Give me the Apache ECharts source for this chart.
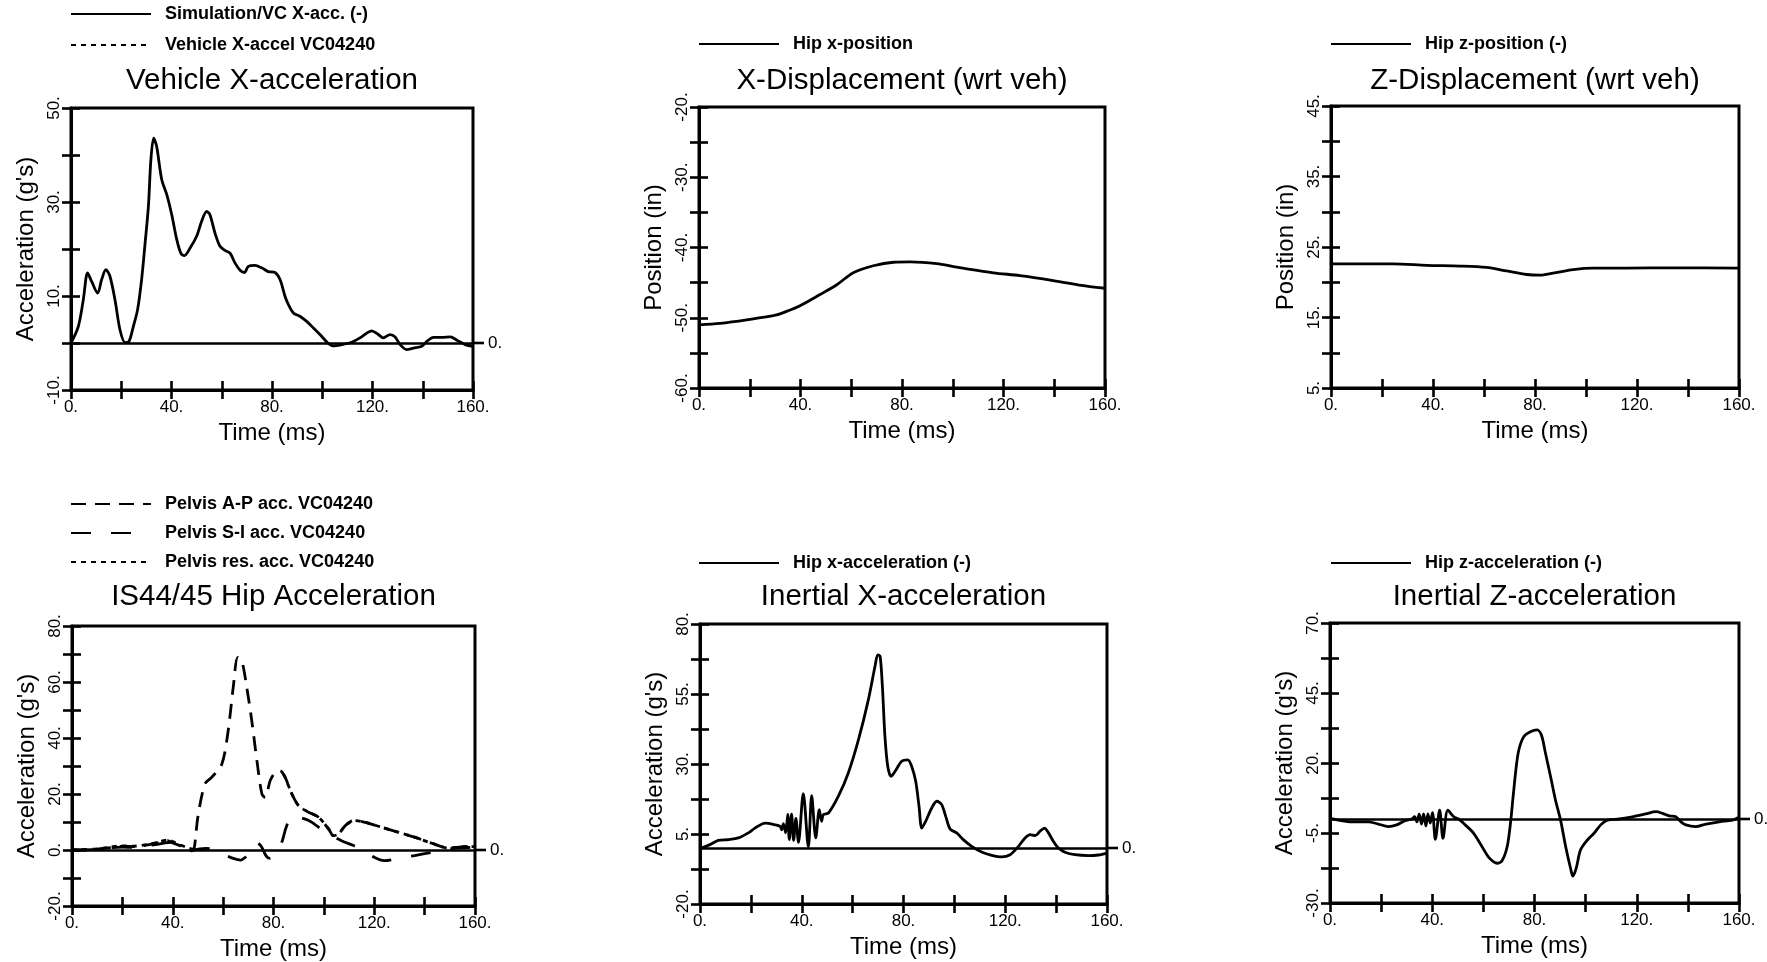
<!DOCTYPE html>
<html>
<head>
<meta charset="utf-8">
<script src="https://cdn.jsdelivr.net/npm/echarts@6/dist/echarts.min.js"></script>
<style>
html,body{margin:0;padding:0;background:#fff;}
#chart{width:1767px;height:962px;}
</style>
</head>
<body>
<div id="chart"></div>
<script>
// ---------------- DATA ----------------
// shared time axis (ms)
const timeTicks = [0, 20, 40, 60, 80, 100, 120, 140, 160];
const timeLabels = [0, 40, 80, 120, 160];

// panel 1: Vehicle X-acceleration
const accel1Ticks = [-10, 0, 10, 20, 30, 40, 50];
const accel1Labels = [-10, 10, 30, 50];
const simVehicleAccel = [[0,0],[2.9,3.5],[4.9,9.2],[6.6,14.9],[8.2,13.1],[10.6,10.6],[12.2,13.5],[13.9,15.6],[15.5,14.2],[17.5,9.2],[19.5,2.8],[21.5,0.1],[23.1,0.35],[24.8,3.5],[26.5,7.1],[28.1,13.5],[29.5,21.3],[30.8,29],[31.8,39],[32.9,43.6],[34.1,41.8],[36.1,34.8],[38.1,31.6],[40.1,27.3],[42.1,22],[43.8,19],[45.1,18.6],[47.4,20.2],[50,22.7],[52,25.9],[54,28],[55.3,27.3],[57.3,23.4],[59.3,20.6],[61.3,19.7],[63.3,19.1],[65.3,17],[67.3,15.5],[69,15],[70.6,16.3],[73.2,16.5],[75.9,16],[78.5,15.2],[81.2,15],[83.2,13.5],[85.2,9.9],[86.5,8.2],[88.5,6.4],[91.1,5.7],[93.8,4.6],[96.5,3.2],[99.1,1.8],[102.4,-0.1],[104.4,-0.6],[107.7,-0.35],[111.7,0.15],[115,1.1],[117.7,2.1],[119.7,2.6],[122.3,1.8],[124.3,1.1],[127,1.8],[129,1.3],[131,-0.35],[133.6,-1.4],[136.3,-1.1],[139.6,-0.7],[141.6,0.35],[144.3,1.2],[147.6,1.2],[151,1.3],[153.6,0.6],[156.9,-0.35],[160,-0.7]];
const testVehicleAccel = [];

// panel 2: X-Displacement
const posXTicks = [-60, -55, -50, -45, -40, -35, -30, -25, -20];
const posXLabels = [-60, -50, -40, -30, -20];
const hipXPosition = [[0,-51],[8.3,-50.8],[18.8,-50.3],[30.6,-49.6],[34.5,-49.1],[39.8,-48.3],[47.7,-46.7],[54.3,-45.3],[60.8,-43.6],[68.7,-42.6],[76.6,-42.1],[83.2,-42.05],[93.7,-42.3],[101.5,-42.8],[116,-43.6],[126.5,-44],[139.6,-44.7],[152.8,-45.5],[160,-45.8]];

// panel 3: Z-Displacement
const posZTicks = [5, 10, 15, 20, 25, 30, 35, 40, 45];
const posZLabels = [5, 15, 25, 35, 45];
const hipZPosition = [[0,22.6],[24.4,22.6],[37.5,22.4],[50.6,22.3],[61,22.1],[68.9,21.6],[76.7,21.1],[81.9,21],[87.1,21.3],[95,21.8],[102.9,22],[115.9,22],[135.5,22.05],[160,22]];

// panel 4: IS44/45 Hip Acceleration
const accel4Ticks = [-20, -10, 0, 10, 20, 30, 40, 50, 60, 70, 80];
const accel4Labels = [-20, 0, 20, 40, 60, 80];
const pelvisAP = [[0,0],[5,0],[10,0.3],[15,0.8],[20,1.3],[25,1.2],[30,1.8],[35,2.8],[38,3.3],[40,2.5],[43,1.5],[46,0.5],[47.5,-0.3],[48.5,0.5],[50,12],[52.8,23.6],[55.5,26],[59.5,30.7],[62,42.6],[64,58],[65.8,68.8],[67.4,67.6],[69.4,58],[71.4,46],[73.4,32],[75.4,20],[76.7,18.8],[78.7,24.8],[80.7,27.7],[82.6,28.3],[84.6,26],[87.3,20],[90,15.8],[93.9,13.5],[97.9,11.7],[101.9,7.5],[103.8,5.1],[105.8,5.7],[108.5,8.7],[111.8,10.5],[116.4,9.9],[123,8.1],[129.7,6.3],[136.3,4.5],[142.9,2.4],[149.5,0.7],[156,1.2],[160,1.2]];
const pelvisSI = [[0,0],[10,0.2],[15,0.8],[20,1.0],[25,0.9],[30,1.5],[35,2.2],[38,2.6],[40,2.8],[42,2.0],[45,0.5],[48,0],[50,0.3],[53,0.6],[56,0.3],[58,-0.5],[61,-1.8],[64,-3],[67,-3.6],[69,-2.5],[71,-0.5],[73,2.7],[75,1.5],[77,-2],[78.5,-3],[80,-2.6],[82,0],[83.5,3.3],[85,8],[87.3,12.3],[90,11.7],[94,10.5],[98,8.1],[102,5.7],[107,3.3],[112,1.5],[116,-0.2],[120,-2.6],[124,-3.8],[130,-2.9],[136,-2],[143,-0.8],[147,0],[152,0.6],[156,0.8],[160,1]];
const pelvisRes = [[0,0],[10,0.4],[15,1],[20,1.5],[25,1.4],[30,2],[35,3],[38,3.6],[40,3],[43,1.8],[46,0.8],[48,0.3],[49,null],[84,27],[84.6,26],[87.3,20],[90,15.8],[93.9,13.5],[97.9,11.7],[101.9,7.5],[103.8,5.1],[105.8,5.7],[108.5,8.7],[111.8,10.5],[116.4,9.9],[123,8.1],[129.7,6.3],[136.3,4.5],[142.9,2.4],[149.5,0.7],[156,1.2],[160,1.2]];

// panel 5: Inertial X-acceleration
const accel5Ticks = [-20, -7.5, 5, 17.5, 30, 42.5, 55, 67.5, 80];
const accel5Labels = [-20, 5, 30, 55, 80];
const hipXAccel = [[0,-0.3],[3.9,1.2],[7.2,2.7],[11.1,3],[15.1,3.6],[19,5.4],[21.6,7.1],[25.6,8.9],[29.5,8.3],[31.5,7.7],[32.1,6.5],[32.8,8.7],[33.7,5.4],[34.5,12],[35.1,3],[36,12.1],[36.8,2.7],[37.7,10.6],[38.7,2],[40.6,19.4],[42.6,0.4],[43.9,18.7],[45.5,3.6],[46.9,13.7],[47.8,9.5],[48.5,11.9],[50.5,12.5],[54.4,18.5],[58.3,26.8],[62.3,38.7],[66.2,53],[68.8,64.9],[69.9,69],[70.8,68.5],[71.7,57.7],[72.7,39.9],[73.8,29.2],[75.1,25.6],[76.7,27.4],[79.3,31],[81.7,31.5],[83.2,29.2],[84.8,23.8],[86.1,14.9],[87.2,7.1],[88.7,9.5],[91.1,14.3],[93.1,16.7],[95,15.5],[96.6,11.3],[98.3,6.8],[100.9,5.4],[103.5,3],[106.8,0.6],[110.7,-1.4],[114.7,-2.6],[118.6,-3.2],[121.9,-2.4],[125.2,0.6],[127.8,3.6],[129.8,4.8],[131.7,4.4],[133.7,6],[135.4,7.1],[137,5.4],[138.9,2.4],[140.9,0],[143.5,-1.5],[147.4,-2.4],[152.7,-2.7],[156.6,-2.5],[160,-1.8]];

// panel 6: Inertial Z-acceleration
const accel6Ticks = [-30, -17.5, -5, 7.5, 20, 32.5, 45, 57.5, 70];
const accel6Labels = [-30, -5, 20, 45, 70];
const hipZAccel = [[0,0.2],[3.3,-0.4],[8.5,-1],[15,-1],[18.9,-1.8],[22.8,-2.7],[26.1,-2.1],[29.3,-0.6],[32,0],[33.1,0.8],[34,-1],[34.9,1.7],[35.8,-1.8],[36.6,1.8],[37.5,-2.5],[38.3,1.8],[39.2,-1.5],[40.1,2.3],[41.2,-7.3],[42.9,3.2],[44.2,-6.9],[46.1,3.2],[48.4,0.8],[50.3,0],[52.9,-2.1],[56.2,-5.1],[59.5,-9.9],[62.1,-13.7],[65.4,-15.8],[67.3,-14.9],[69.3,-9.9],[70.6,-1.5],[71.9,10.4],[73.6,23.5],[75.8,29.4],[78.4,31.2],[81,31.8],[82.7,30],[84.3,23.5],[86.3,15.1],[88.2,6.8],[90.2,-0.4],[92.2,-9.9],[94.1,-17.6],[95,-20.4],[96.3,-17.6],[98,-11.1],[100.7,-7.5],[103.3,-5.1],[105.9,-2.1],[108.5,-0.4],[113.1,0],[118.3,0.8],[123.5,1.8],[127.5,2.6],[130.1,2],[132.7,1.1],[135.3,0.8],[137.3,-1],[139.2,-2.1],[143.1,-2.7],[147.1,-1.8],[152.3,-1],[157.5,-0.4],[160,0.6]];

// ---------------- LAYOUT / STYLE ----------------
const FONT = '"Liberation Sans", Arial, Helvetica, sans-serif';
const SOLID = 'solid', AP_DASH = [15, 9], SI_DASH = [20, 20], SHORT_DASH = [5, 5];
const LINE_W = 2.8;

const panels = [
  { grid:{left:71, top:108, width:402, height:282}, title:'Vehicle X-acceleration', titleY:81,
    yName:"Acceleration (g's)", yMin:-10, yMax:50, yTicks:accel1Ticks, yLabels:accel1Labels, zero:true,
    legend:{left:70, top:5, gap:13},
    series:[{name:'Simulation/VC X-acc. (-)', data:simVehicleAccel, dash:SOLID},
            {name:'Vehicle X-accel VC04240', data:testVehicleAccel, dash:SHORT_DASH}] },
  { grid:{left:699, top:107, width:406, height:281}, title:'X-Displacement (wrt veh)', titleY:81,
    yName:'Position (in)', yMin:-60, yMax:-20, yTicks:posXTicks, yLabels:posXLabels, zero:false,
    legend:{left:698, top:35, gap:13},
    series:[{name:'Hip x-position', data:hipXPosition, dash:SOLID}] },
  { grid:{left:1331, top:106, width:408, height:282}, title:'Z-Displacement (wrt veh)', titleY:81,
    yName:'Position (in)', yMin:5, yMax:45, yTicks:posZTicks, yLabels:posZLabels, zero:false,
    legend:{left:1330, top:35, gap:13},
    series:[{name:'Hip z-position (-)', data:hipZPosition, dash:SOLID}] },
  { grid:{left:72, top:626, width:403, height:280}, title:'IS44/45 Hip Acceleration', titleY:597,
    yName:"Acceleration (g's)", yMin:-20, yMax:80, yTicks:accel4Ticks, yLabels:accel4Labels, zero:true,
    legend:{left:70, top:495, gap:11},
    series:[{name:'Pelvis A-P acc. VC04240', data:pelvisAP, dash:AP_DASH},
            {name:'Pelvis S-I acc. VC04240', data:pelvisSI, dash:SI_DASH},
            {name:'Pelvis res. acc. VC04240', data:pelvisRes, dash:SHORT_DASH}] },
  { grid:{left:700, top:624, width:407, height:280}, title:'Inertial X-acceleration', titleY:597,
    yName:"Acceleration (g's)", yMin:-20, yMax:80, yTicks:accel5Ticks, yLabels:accel5Labels, zero:true,
    legend:{left:698, top:554, gap:13},
    series:[{name:'Hip x-acceleration (-)', data:hipXAccel, dash:SOLID}] },
  { grid:{left:1330, top:623, width:409, height:280}, title:'Inertial Z-acceleration', titleY:597,
    yName:"Acceleration (g's)", yMin:-30, yMax:70, yTicks:accel6Ticks, yLabels:accel6Labels, zero:true,
    legend:{left:1330, top:554, gap:13},
    series:[{name:'Hip z-acceleration (-)', data:hipZAccel, dash:SOLID}] }
];

const fmt = v => v + '.';
const tickStyle = {color:'#000', width:2.6};

const option = {
  animation:false,
  backgroundColor:'#fff',
  textStyle:{fontFamily:FONT, color:'#000'},
  grid:[], xAxis:[], yAxis:[], series:[], legend:[], graphic:[]
};

panels.forEach((p, gi) => {
  option.grid.push(Object.assign({show:true, borderColor:'#000', borderWidth:3, backgroundColor:'#fff',
    containLabel:false, outerBoundsMode:'none'}, p.grid));

  option.xAxis.push({
    type:'value', gridIndex:gi, min:0, max:160, position:'bottom',
    axisLine:{show:true, onZero:false, lineStyle:{color:'#000', width:3}},
    axisTick:{show:true, inside:false, length:9, customValues:timeTicks, lineStyle:tickStyle},
    axisLabel:{show:true, customValues:timeLabels, formatter:fmt, color:'#000', fontSize:17, fontFamily:FONT, margin:9},
    splitLine:{show:false},
    name:'Time (ms)', nameLocation:'middle', nameGap:31,
    nameTextStyle:{fontSize:24, color:'#000', fontFamily:FONT}
  });
  option.xAxis.push({
    type:'value', gridIndex:gi, min:0, max:160, position:'bottom',
    axisLine:{show:false, onZero:false},
    axisTick:{show:true, inside:true, length:9, customValues:timeTicks, lineStyle:tickStyle},
    axisLabel:{show:false}, splitLine:{show:false}
  });
  option.yAxis.push({
    type:'value', gridIndex:gi, min:p.yMin, max:p.yMax, position:'left',
    axisLine:{show:true, onZero:false, lineStyle:{color:'#000', width:3}},
    axisTick:{show:true, inside:false, length:9, customValues:p.yTicks, lineStyle:tickStyle},
    axisLabel:{show:true, customValues:p.yLabels, formatter:fmt, rotate:90, color:'#000', fontSize:17, fontFamily:FONT, margin:8},
    splitLine:{show:false},
    name:p.yName, nameLocation:'middle', nameGap:33, nameRotate:90,
    nameTextStyle:{fontSize:24, color:'#000', fontFamily:FONT}
  });
  option.yAxis.push({
    type:'value', gridIndex:gi, min:p.yMin, max:p.yMax, position:'left',
    axisLine:{show:false, onZero:false},
    axisTick:{show:true, inside:true, length:9, customValues:p.yTicks, lineStyle:tickStyle},
    axisLabel:{show:false}, splitLine:{show:false}
  });

  p.series.forEach((s, si) => {
    const ser = {
      type:'line', name:s.name, xAxisIndex:gi*2, yAxisIndex:gi*2,
      data:s.data, symbol:'none', showSymbol:false, smooth:0.3, connectNulls:false,
      lineStyle:{color:'#000', width:LINE_W, type:s.dash}, itemStyle:{color:'#000'},
      emphasis:{disabled:true}, z:3
    };
    if (si === 0 && p.zero) {
      ser.markLine = {
        silent:true, symbol:['none','none'], animation:false,
        lineStyle:{color:'#000', width:2.6, type:'solid'},
        emphasis:{disabled:true},
        label:{show:true, position:'end', distance:0, formatter:'{l|}{t|0.}',
          rich:{
            l:{width:11, height:2.6, backgroundColor:'#000', verticalAlign:'middle'},
            t:{fontSize:17, color:'#000', fontFamily:FONT, padding:[0,0,0,4], verticalAlign:'middle'}
          }},
        data:[{yAxis:0}]
      };
    }
    option.series.push(ser);
  });

  option.legend.push({
    data:p.series.map(s => s.name), orient:'vertical', left:p.legend.left, top:p.legend.top,
    itemWidth:80, itemHeight:14, itemGap:p.legend.gap, selectedMode:false, padding:0,
    itemStyle:{opacity:0},
    textStyle:{fontSize:18, fontWeight:'bold', color:'#000', fontFamily:FONT, padding:[0,0,0,9]}
  });

  option.graphic.push({
    type:'text', x:p.grid.left + p.grid.width / 2, y:p.titleY, silent:true,
    style:{text:p.title, font:'29.5px ' + FONT, fill:'#000', align:'center', verticalAlign:'middle',
      textAlign:'center', textVerticalAlign:'middle'}
  });
});

const chart = echarts.init(document.getElementById('chart'), null, {renderer:'canvas'});
chart.setOption(option);
</script>
</body>
</html>
